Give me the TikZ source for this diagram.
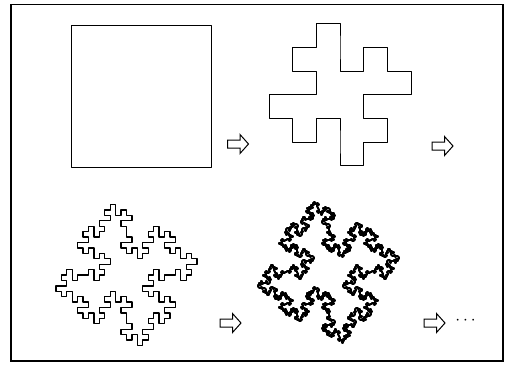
\documentclass[tikz,border=0pt]{standalone}
\usetikzlibrary{positioning}

% turtle on the square grid: position \kx,\ky and heading \kh (0..3)
\newcount\kx \newcount\ky \newcount\kh
\newcount\kxmin \newcount\kxmax \newcount\kymin \newcount\kymax
\newif\ifkdraw
\newcommand\kturn[1]{%
  \advance\kh by #1\relax
  \ifnum\kh<0 \advance\kh by 4 \fi
  \ifnum\kh>3 \advance\kh by -4 \fi}
\newcommand\kforward{%
  \ifcase\kh \advance\kx by 1 \or \advance\ky by 1 \or \advance\kx by -1 \or \advance\ky by -1 \fi
  \ifkdraw
    \pgfpathlineto{\pgfpointxy{\the\kx}{\the\ky}}%
  \else
    \ifnum\kx<\kxmin \kxmin=\kx \fi
    \ifnum\kx>\kxmax \kxmax=\kx \fi
    \ifnum\ky<\kymin \kymin=\ky \fi
    \ifnum\ky>\kymax \kymax=\ky \fi
  \fi}
% F -> F-F+F+FF-F-F+F
\newcommand\kside[1]{%
  \ifnum#1=0 \kforward
  \else \expandafter\kgen\expandafter{\the\numexpr#1-1\relax}%
  \fi}
\newcommand\kgen[1]{%
  \kside{#1}\kturn{-1}\kside{#1}\kturn{1}\kside{#1}\kturn{1}\kside{#1}\kside{#1}%
  \kturn{-1}\kside{#1}\kturn{-1}\kside{#1}\kturn{1}\kside{#1}}
\newcommand\kloop[1]{%
  \kside{#1}\kturn{1}\kside{#1}\kturn{1}\kside{#1}\kturn{1}\kside{#1}\kturn{1}}
% level, centre x, centre y, width: measure first, then draw
\newcommand\kisland[4]{%
  \kdrawfalse
  \kx=0 \ky=0 \kh=0 \kxmin=0 \kxmax=0 \kymin=0 \kymax=0
  \kloop{#1}%
  \pgfmathsetmacro\kf{#4/(\kxmax-\kxmin)}%
  \pgfmathsetmacro\kcx{#2-\kf*(\kxmin+\kxmax)/2}%
  \pgfmathsetmacro\kcy{#3-\kf*(\kymin+\kymax)/2}%
  \begin{scope}[shift={(\kcx,\kcy)}, scale=\kf]
    \kdrawtrue \kx=0 \ky=0 \kh=0
    \pgfpathmoveto{\pgfpointorigin}%
    \kloop{#1}%
    \pgfpathclose
    \pgfusepath{stroke}%
  \end{scope}}

\tikzset{
  frame line/.style={line width=1.2pt},
  island line/.style={line width=1pt, line join=round},
  hollowarrow/.pic={
    \draw[line width=1pt, line join=miter]
      (-10.5,-4) -- (2,-4) -- (2,-9.5) -- (10.5,0) -- (2,9.5) -- (2,4) -- (-10.5,4) -- cycle;}
}

\begin{document}
\begin{tikzpicture}[x=1pt, y=-1pt]
    \fill[white] (0,0) rectangle (508,364);
    \useasboundingbox (0,0) rectangle (508,364);

    % outer frame
    \draw[frame line] (11,4.5) rectangle (503,361);

    % ---------- top row ----------
    % initiator
    \draw[island line] (71,25) rectangle (211,167);
    \pic at (238,144) {hollowarrow};

    % first step
    \begin{scope}[island line]
      \kisland{1}{340}{94.8}{142}
    \end{scope}
    \pic at (442.5,146) {hollowarrow};

    % ---------- bottom row ----------
    \begin{scope}[island line, line width=1.3pt]
      \kisland{2}{126.5}{275}{141}
    \end{scope}
    \pic at (230.5,323) {hollowarrow};

    \begin{scope}[island line, line width=2pt]
      \kisland{3}{328.5}{272}{141}
    \end{scope}
    \pic at (434.5,323) {hollowarrow};
    \node[font=\fontsize{18}{18}\selectfont, inner sep=0pt] (dots) at (465.5,321) {$\cdots$};
\end{tikzpicture}
\end{document}
